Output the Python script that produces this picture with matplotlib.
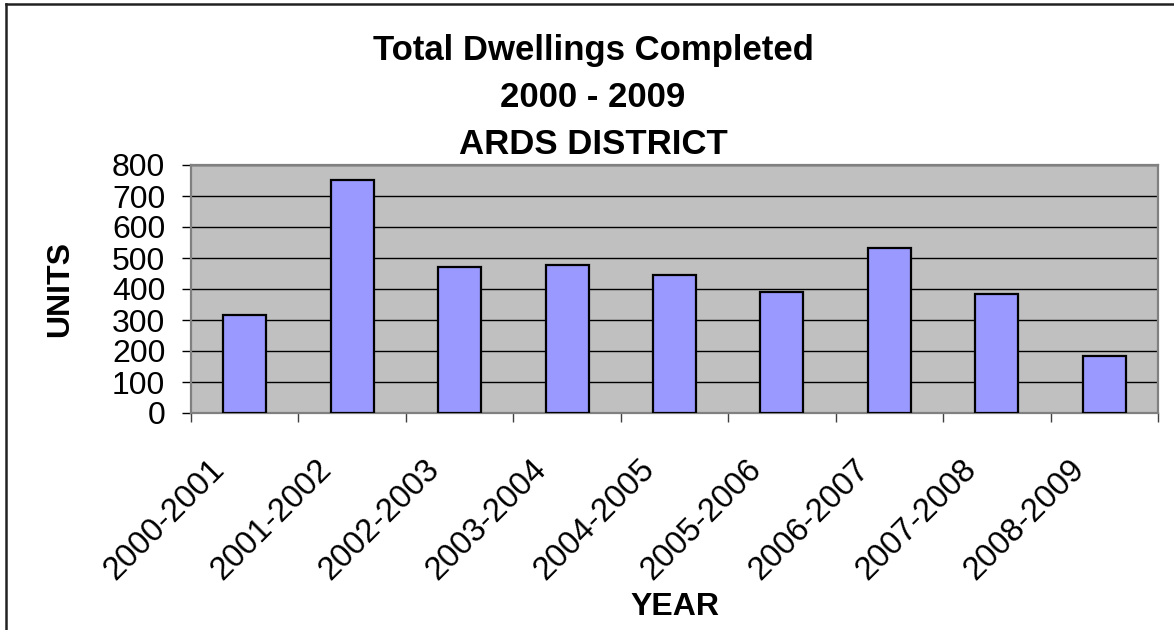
import matplotlib
matplotlib.use("Agg")
import matplotlib.pyplot as plt
from matplotlib.lines import Line2D
from matplotlib.transforms import ScaledTranslation
import numpy as np

plt.rcParams["font.family"] = ["Liberation Sans", "DejaVu Sans"]

years = ["2000-2001", "2001-2002", "2002-2003", "2003-2004", "2004-2005",
         "2005-2006", "2006-2007", "2007-2008", "2008-2009"]
units = [315, 753, 470, 476, 445, 391, 531, 385, 185]
y_ticks = [0, 100, 200, 300, 400, 500, 600, 700, 800]

W, H, DPI = 1174, 630, 100
fig = plt.figure(figsize=(W / DPI, H / DPI), dpi=DPI)
ax = fig.add_axes([191 / W, 1 - 413 / H, (1158 - 191) / W, (413 - 165) / H])

x = np.arange(len(years))
ax.set_facecolor("#C0C0C0")
ax.bar(x, units, width=0.4, color="#9999FF", edgecolor="black", linewidth=1.6, zorder=3)

ax.set_xlim(-0.5, len(years) - 0.5)
ax.set_ylim(0, 800)
ax.set_yticks(y_ticks)
ax.yaxis.grid(True, color="black", linewidth=1.0, zorder=1)
ax.set_axisbelow(True)

for s in ax.spines.values():
    s.set_color("#808080")
    s.set_linewidth(1.6)

ax.tick_params(axis="y", direction="out", length=6.5, width=1, color="black",
               pad=12, labelsize=23)
# category boundary ticks
ax.set_xticks(np.arange(-0.5, len(years)), minor=True)
ax.tick_params(axis="x", which="minor", direction="out", length=6.5, width=1, color="#404040")
ax.set_xticks(x)
ax.set_xticklabels(years, rotation=45, ha="right", fontsize=23.5)
ax.tick_params(axis="x", which="major", length=0, pad=29.5)
off = ScaledTranslation(-14 / DPI, 0, fig.dpi_scale_trans)
for lab in ax.get_xticklabels():
    lab.set_transform(lab.get_transform() + off)

ax.set_ylabel("UNITS", fontsize=23, fontweight="bold")
ax.yaxis.set_label_coords(-116 / (1158 - 191), 0.5)
ax.set_xlabel("YEAR", fontsize=23, fontweight="bold")
ax.xaxis.set_label_coords(0.5, -(622 - 413) / (413 - 165), transform=ax.transAxes)
ax.xaxis.label.set_va("bottom")

fig.text(593 / W, 1 - 34 / H,
         "Total Dwellings Completed\n2000 - 2009\nARDS DISTRICT",
         ha="center", va="top", fontsize=25, fontweight="bold", linespacing=1.53)

# chart border (top and left edges visible)
fig.add_artist(Line2D([5.5 / W, 5.5 / W], [0, 1 - 3.5 / H], color="#222222", lw=1.8,
                      transform=fig.transFigure))
fig.add_artist(Line2D([5.5 / W, 1], [1 - 3.5 / H, 1 - 3.5 / H], color="#222222", lw=1.8,
                      transform=fig.transFigure))

fig.savefig("out.png", dpi=DPI)
